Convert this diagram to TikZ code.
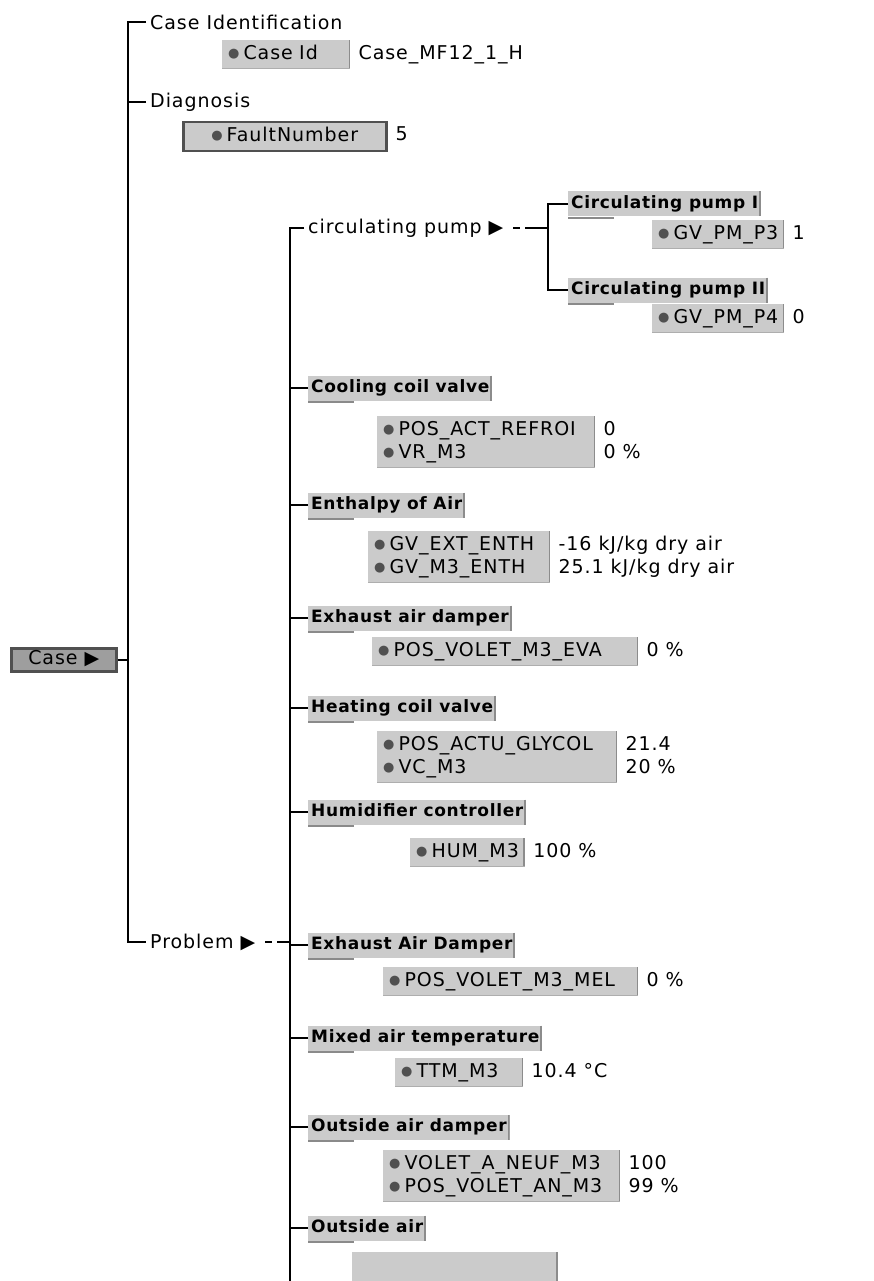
\documentclass[tikz,border=0pt]{standalone}
\usepackage{fontspec}
\setmainfont{DejaVu Sans}
\newfontfamily\gfont[LetterSpace=5]{DejaVu Sans}
\newfontfamily\hfont[LetterSpace=4,UprightFont=* Bold]{DejaVu Sans}
\definecolor{boxgray}{HTML}{CBCBCB}
\definecolor{edgegray}{HTML}{8C8C8C}
\definecolor{shadowgray}{HTML}{8A8A8A}
\definecolor{bevdark}{HTML}{505050}
\definecolor{bulgray}{HTML}{505050}
\definecolor{casegray}{HTML}{9E9E9E}
\newcommand{\bul}{\raisebox{2pt}{\color{bulgray}\fontsize{13}{13}\selectfont●}\hspace*{4pt}}
\newcommand{\reg}{\gfont\fontsize{19}{23}\selectfont}
\tikzset{
  conn/.style={line width=2pt, black},
  lbl/.style={anchor=west, inner xsep=4pt, inner ysep=2pt, font=\reg},
  hdr/.style={anchor=west, fill=boxgray, inner xsep=3pt, inner ysep=3pt,
    font=\hfont\fontsize{17}{19}\selectfont, text height=14pt, text depth=5pt,
    path picture={\draw[edgegray, line width=2pt]
      ([xshift=-1pt]path picture bounding box.north east) --
      ([xshift=-1pt]path picture bounding box.south east);}},
  itembox/.style={anchor=north west, fill=boxgray, inner xsep=6pt, inner ysep=3pt,
    align=left, font=\reg,
    path picture={\draw[edgegray, line width=1.5pt]
      ([xshift=-0.75pt]path picture bounding box.north east) --
      ([xshift=-0.75pt]path picture bounding box.south east);
      \draw[edgegray!70, line width=1pt]
      ([yshift=0.5pt]path picture bounding box.south west) --
      ([yshift=0.5pt]path picture bounding box.south east);}},
  valbox/.style={anchor=north west, inner xsep=6pt, inner ysep=3pt, align=left, font=\reg},
  bevbox/.style={anchor=west, fill=boxgray, draw=bevdark, line width=2.5pt,
    inner xsep=8pt, inner ysep=3pt, font=\reg, text height=13pt, text depth=4pt},
  shadowline/.style={shadowgray, line width=2pt},
  dashin/.style={conn, dash pattern=on 0pt off 6pt on 7pt off 5pt on 300pt},
}
\begin{document}
\begin{tikzpicture}[x=1pt,y=-1pt]
\fill[white] (0,0) rectangle (873,1281);
\useasboundingbox (0,0) rectangle (873,1281);
\coordinate (sA) at (128,0);
\coordinate (sB) at (290,0);
\coordinate (sC) at (548,0);
\coordinate (sBend) at (290,1290);

% root
\node[bevbox, fill=casegray, minimum width=105pt] (case) at (10,660) {Case ▶};

% top branch
\node[lbl] (cid) at (146,22) {Case Identification};
\node[itembox, text width=116pt] (caseid) at (222,40) {\strut\bul Case Id};
\node[valbox] (caseidv) at ([xshift=2pt]caseid.north east) {\strut Case\_MF12\_1\_H};
\node[lbl] (diag) at (146,102) {Diagnosis};
\node[itembox, draw=bevdark, line width=2.5pt, inner xsep=10pt, minimum width=203pt] (fault) at (182,121) {\strut\bul FaultNumber};
\node[valbox] (faultv) at ([xshift=2pt]fault.north east) {\strut 5};
\node[lbl] (problem) at (146,942) {Problem ▶};

% circulating pump
\node[lbl] (cp) at (304,228) {circulating pump ▶};
\node[hdr] (cp1) at (568,204) {Circulating pump I};
\node[itembox] (p3) at (652,220) {\strut\bul GV\_PM\_P3};
\node[valbox] (p3v) at ([xshift=2pt]p3.north east) {\strut 1};
\node[hdr] (cp2) at (568,290) {Circulating pump II};
\node[itembox] (p4) at (652,304) {\strut\bul GV\_PM\_P4};
\node[valbox] (p4v) at ([xshift=2pt]p4.north east) {\strut 0};

% groups
\node[hdr] (h1) at (308,388) {Cooling coil valve};
\node[itembox, text width=206pt] (b1) at (377,416) {\strut\bul POS\_ACT\_REFROI\\\strut\bul VR\_M3};
\node[valbox] (v1) at ([xshift=2pt]b1.north east) {\strut 0\\\strut 0 \%};

\node[hdr] (h2) at (308,505) {Enthalpy of Air};
\node[itembox, text width=170pt] (b2) at (368,531) {\strut\bul GV\_EXT\_ENTH\\\strut\bul GV\_M3\_ENTH};
\node[valbox] (v2) at ([xshift=2pt]b2.north east) {\strut -16 kJ/kg dry air\\\strut 25.1 kJ/kg dry air};

\node[hdr] (h3) at (308,618) {Exhaust air damper};
\node[itembox, text width=254pt] (b3) at (372,637) {\strut\bul POS\_VOLET\_M3\_EVA};
\node[valbox] (v3) at ([xshift=2pt]b3.north east) {\strut 0 \%};

\node[hdr] (h4) at (308,708) {Heating coil valve};
\node[itembox, text width=228pt] (b4) at (377,731) {\strut\bul POS\_ACTU\_GLYCOL\\\strut\bul VC\_M3};
\node[valbox] (v4) at ([xshift=2pt]b4.north east) {\strut 21.4\\\strut 20 \%};

\node[hdr] (h5) at (308,812) {Humidifier controller};
\node[itembox] (b5) at (410,838) {\strut\bul HUM\_M3};
\node[valbox] (v5) at ([xshift=2pt]b5.north east) {\strut 100 \%};

\node[hdr] (h6) at (308,945) {Exhaust Air Damper};
\node[itembox, text width=243pt] (b6) at (383,967) {\strut\bul POS\_VOLET\_M3\_MEL};
\node[valbox] (v6) at ([xshift=2pt]b6.north east) {\strut 0 \%};

\node[hdr] (h7) at (308,1038) {Mixed air temperature};
\node[itembox, text width=116pt] (b7) at (395,1058) {\strut\bul TTM\_M3};
\node[valbox] (v7) at ([xshift=2pt]b7.north east) {\strut 10.4 °C};

\node[hdr] (h8) at (308,1127) {Outside air damper};
\node[itembox, text width=225pt] (b8) at (383,1150) {\strut\bul VOLET\_A\_NEUF\_M3\\\strut\bul POS\_VOLET\_AN\_M3};
\node[valbox] (v8) at ([xshift=2pt]b8.north east) {\strut 100\\\strut 99 \%};

\node[hdr] (h9) at (308,1228) {Outside air};
\fill[boxgray] (352,1252) rectangle (558,1295);
\draw[edgegray, line width=1.5pt] (557,1252) -- (557,1295);

% header shadows
\foreach \n in {cp1,cp2,h1,h2,h3,h4,h5,h6,h7,h8,h9}
  \draw[shadowline] ([yshift=-1.5pt]\n.south west) -- ++(46pt,0);

% connectors
\draw[conn] (cid.west) -- (cid.west -| sA) -- (problem.west -| sA) -- (problem.west);
\draw[conn] (diag.west) -- (diag.west -| sA);
\draw[conn] (case.east) -- (case.east -| sA);
\draw[dashin] (problem.east) -- (problem.east -| sB);
\draw[conn] (cp.west) -- (cp.west -| sB) -- (sBend);
\foreach \n in {h1,h2,h3,h4,h5,h6,h7,h8,h9}
  \draw[conn] (\n.west) -- (\n.west -| sB);
\draw[dashin] (cp.east) -- (cp.east -| sC);
\draw[conn] (cp1.west) -- (cp1.west -| sC) -- (cp2.west -| sC) -- (cp2.west);
\end{tikzpicture}
\end{document}
